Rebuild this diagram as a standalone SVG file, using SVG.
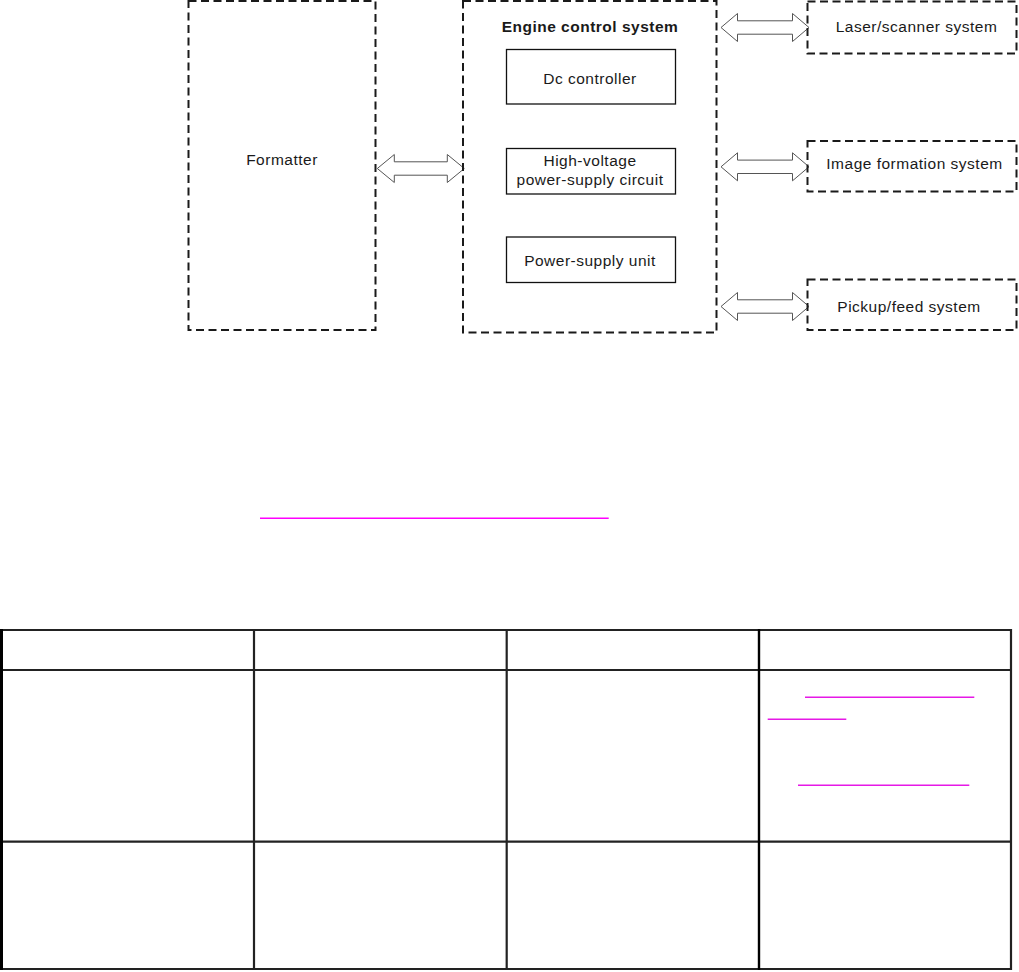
<svg xmlns="http://www.w3.org/2000/svg" width="1019" height="972" viewBox="0 0 1019 972">
<style>
.dash{fill:none;stroke:#1a1a1a;stroke-width:2;stroke-dasharray:8 4.5}
.solid{fill:#fff;stroke:#111;stroke-width:1.3}
.t{font-family:"Liberation Sans",Arial,sans-serif;font-size:15.5px;letter-spacing:0.5px;fill:#1a1a1a;text-anchor:middle}
.b{font-weight:bold}
.arr{fill:#fff;stroke:#555;stroke-width:1}
.tbl{stroke:#222;stroke-width:2.2;fill:none}
.link{stroke:#ff00ff;stroke-width:1.4}
.link2{stroke:#e619e6;stroke-width:1.5}
</style>
<rect width="1019" height="972" fill="#fff"/>
<g id="connectors">
<path class="arr" d="M377.3,168.5 L394.3,154.5 L394.3,161.8 L447.3,161.8 L447.3,154.5 L464.3,168.5 L447.3,182.5 L447.3,175.2 L394.3,175.2 L394.3,182.5 Z"/>
<path class="arr" d="M721,27.5 L737.5,13.5 L737.5,20.8 L792.5,20.8 L792.5,13.5 L809,27.5 L792.5,41.5 L792.5,34.2 L737.5,34.2 L737.5,41.5 Z"/>
<path class="arr" d="M721,166.8 L737.5,152.8 L737.5,160.1 L792.5,160.1 L792.5,152.8 L809,166.8 L792.5,180.8 L792.5,173.5 L737.5,173.5 L737.5,180.8 Z"/>
<path class="arr" d="M721,306.5 L737.5,292.5 L737.5,299.8 L792.5,299.8 L792.5,292.5 L809,306.5 L792.5,320.5 L792.5,313.2 L737.5,313.2 L737.5,320.5 Z"/>
</g>
<g id="formatter">
<rect class="dash" x="188.5" y="1" width="187" height="329"/>
<text class="t" x="282" y="165">Formatter</text>
</g>
<g id="engine">
<rect class="dash" x="463" y="1" width="253.5" height="331.5"/>
<text class="t b" x="590" y="31.5">Engine control system</text>
</g>
<g id="dc">
<rect class="solid" x="506.5" y="49.5" width="169" height="54.5"/>
<text class="t" x="590" y="84">Dc controller</text>
</g>
<g id="hv">
<rect class="solid" x="506.5" y="148.5" width="169" height="45.5"/>
<text class="t" x="590" y="166">High-voltage</text>
<text class="t" x="590" y="184.5">power-supply circuit</text>
</g>
<g id="psu">
<rect class="solid" x="506.5" y="237" width="169" height="45.5"/>
<text class="t" x="590" y="265.7">Power-supply unit</text>
</g>
<g id="laser">
<rect class="dash" x="807.5" y="1.5" width="209" height="52"/>
<text class="t" x="916.5" y="32">Laser/scanner system</text>
</g>
<g id="image">
<rect class="dash" x="807.5" y="141" width="209" height="50.5"/>
<text class="t" x="914.5" y="169">Image formation system</text>
</g>
<g id="pickup">
<rect class="dash" x="807.5" y="279.5" width="209" height="50.5"/>
<text class="t" x="909" y="311.7">Pickup/feed system</text>
</g>
<g id="link">
<line class="link" x1="260" y1="518.3" x2="608.7" y2="518.3"/>
</g>
<g id="table">
<line class="tbl" x1="1" y1="630" x2="1012" y2="630"/>
<line class="tbl" x1="1" y1="670" x2="1012" y2="670"/>
<line class="tbl" x1="1" y1="841.7" x2="1012" y2="841.7"/>
<line class="tbl" x1="1" y1="969" x2="1012" y2="969"/>
<line stroke="#000" stroke-width="3" x1="1.5" y1="629" x2="1.5" y2="970"/>
<line class="tbl" x1="254" y1="629" x2="254" y2="970"/>
<line class="tbl" x1="506.7" y1="629" x2="506.7" y2="970"/>
<line stroke="#000" stroke-width="2.4" x1="759" y1="629" x2="759" y2="970"/>
<line class="tbl" x1="1011" y1="629" x2="1011" y2="970"/>
<line class="link2" x1="805" y1="697.3" x2="974.3" y2="697.3"/>
<line class="link2" x1="767.7" y1="719.3" x2="846.3" y2="719.3"/>
<line class="link2" x1="798" y1="785.3" x2="969.3" y2="785.3"/>
</g>
</svg>
